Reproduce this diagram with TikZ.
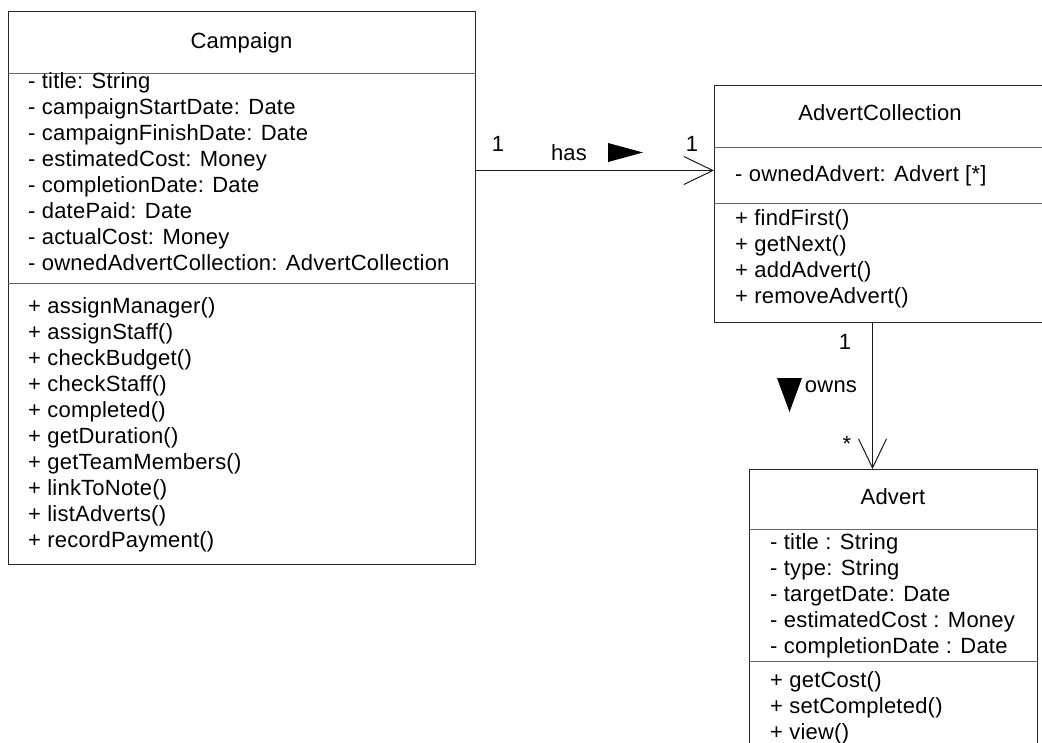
\documentclass[tikz,border=0pt]{standalone}
\usepackage{fontspec}
\setmainfont[LetterSpace=1]{Liberation Sans}
\usetikzlibrary{positioning,arrows.meta}
\newcommand{\umlsize}{\fontsize{22}{26}\selectfont}

\begin{document}
\begin{tikzpicture}[
  x=1pt, y=-1pt,
  classbox/.style={draw=black!85, line width=1pt, anchor=north west, inner sep=0pt},
  divider/.style={draw=black!60, line width=1pt},
  classname/.style={font=\umlsize, anchor=base, inner sep=0pt},
  members/.style={font=\umlsize, align=left, anchor=base west, inner sep=0pt},
  mult/.style={font=\umlsize, anchor=base, inner sep=0pt},
  assoc/.style={draw=black!90, line width=1pt, ->},
  dirmark/.style={fill=black},
  >={Straight Barb[length=29pt, width=28pt]}
]
\useasboundingbox (0,0) rectangle (1042,742);
\clip (0,0) rectangle (1042,742);

% Campaign (member lists sit on the baseline of their last line)
\node[classbox, minimum width=467pt, minimum height=553pt] (campaign) at (8,11) {};
\draw[divider] ([yshift=-62pt]campaign.north west) -- ([yshift=-62pt]campaign.north east);
\draw[divider] ([yshift=-272pt]campaign.north west) -- ([yshift=-272pt]campaign.north east);
\node[classname] (campaign-name) at (241.5,48) {Campaign};
\node[members] (campaign-attrs) at (28,270) {- title: String\\- campaignStartDate: Date\\- campaignFinishDate: Date\\- estimatedCost: Money\\- completionDate: Date\\- datePaid: Date\\- actualCost: Money\\- ownedAdvertCollection: AdvertCollection};
\node[members] (campaign-ops) at (28,547) {+ assignManager()\\+ assignStaff()\\+ checkBudget()\\+ checkStaff()\\+ completed()\\+ getDuration()\\+ getTeamMembers()\\+ linkToNote()\\+ listAdverts()\\+ recordPayment()};

% AdvertCollection
\node[classbox, minimum width=332pt, minimum height=237pt] (advcoll) at (714,85) {};
\draw[divider] ([yshift=-62pt]advcoll.north west) -- ([yshift=-62pt]advcoll.north east);
\draw[divider] ([yshift=-118pt]advcoll.north west) -- ([yshift=-118pt]advcoll.north east);
\node[classname] (advcoll-name) at (880,120) {AdvertCollection};
\node[members] (advcoll-attrs) at (735,181) {- ownedAdvert: Advert [*]};
\node[members] (advcoll-ops) at (735,303) {+ findFirst()\\+ getNext()\\+ addAdvert()\\+ removeAdvert()};

% Advert
\node[classbox, minimum width=288pt, minimum height=300pt] (advert) at (749,469) {};
\draw[divider] ([yshift=-60pt]advert.north west) -- ([yshift=-60pt]advert.north east);
\draw[divider] ([yshift=-192pt]advert.north west) -- ([yshift=-192pt]advert.north east);
\node[classname] (advert-name) at (893,504) {Advert};
\node[members] (advert-attrs) at (770,653) {- title : String\\- type: String\\- targetDate: Date\\- estimatedCost : Money\\- completionDate : Date};
\node[members] (advert-ops) at (770,739) {+ getCost()\\+ setCompleted()\\+ view()};

% has
\coordinate (has-in) at ([yshift=33.5pt]advcoll.west);
\draw[assoc] (campaign.east |- has-in) -- (has-in);
\node[mult] (has-src) at (498,151) {1};
\node[mult] (has-label) at (569,160) {has};
\node[mult] (has-dst) at (692,151) {1};
\fill[dirmark] (608,143) -- (643,152.5) -- (608,162) -- cycle;

% owns
\coordinate (owns-out) at ([xshift=-8pt]advcoll.south);
\draw[assoc] (owns-out) -- (owns-out |- advert.north);
\node[mult] (owns-src) at (845,349) {1};
\node[mult] (owns-label) at (831,392) {owns};
\node[mult] (owns-dst) at (847,451) {*};
\fill[dirmark] (777,378) -- (802,378) -- (789.5,412) -- cycle;
\end{tikzpicture}
\end{document}
